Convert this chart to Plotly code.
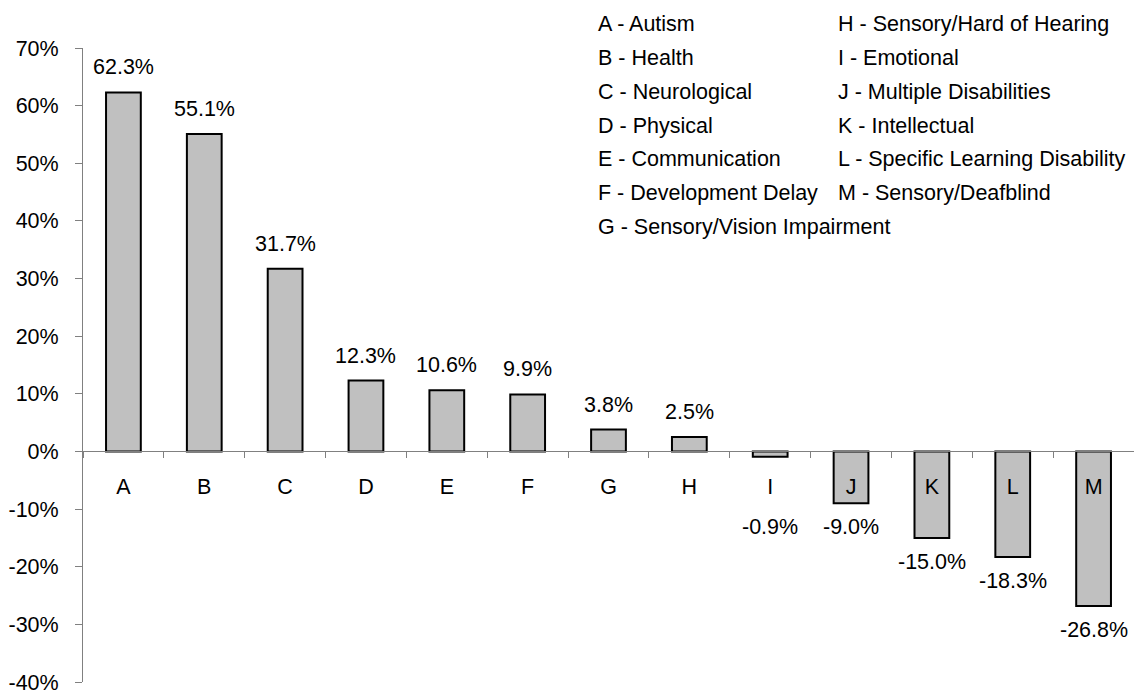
import plotly.graph_objects as go

categories = ["A", "B", "C", "D", "E", "F", "G", "H", "I", "J", "K", "L", "M"]
values = [62.3, 55.1, 31.7, 12.3, 10.6, 9.9, 3.8, 2.5, -0.9, -9.0, -15.0, -18.3, -26.8]
names = ["Autism", "Health", "Neurological", "Physical", "Communication",
         "Development Delay", "Sensory/Vision Impairment", "Sensory/Hard of Hearing",
         "Emotional", "Multiple Disabilities", "Intellectual",
         "Specific Learning Disability", "Sensory/Deafblind"]
y_ticks = [-40, -30, -20, -10, 0, 10, 20, 30, 40, 50, 60, 70]
y_tick_labels = [f"{t}%" for t in y_ticks]

FONT = "Liberation Sans, Arial, sans-serif"
FS = 21.5
W, H = 1134, 695
ML, MR, MT, MB = 83, 0, 48, 10
ymin, ymax = -40, 70
LABEL_FLOOR = -9.0  # negative labels sit no higher than this level (clears category letters)

fig = go.Figure()
fig.add_trace(go.Bar(
    x=categories, y=values, width=0.43,
    marker=dict(color="#c0c0c0", line=dict(color="#000000", width=2)),
    showlegend=False, hoverinfo="x+y",
))

annotations = []
for c, v in zip(categories, values):
    annotations.append(dict(
        x=c, y=v if v >= 0 else min(v, LABEL_FLOOR), xref="x", yref="y",
        text=f"{v:.1f}%", showarrow=False,
        yanchor="bottom" if v >= 0 else "top", yshift=11 if v >= 0 else -10,
        font=dict(family=FONT, size=FS, color="#000"),
    ))

# key text in two columns
plot_h = H - MT - MB
plot_w = W - ML - MR
col1_x = (596 - ML) / plot_w
col2_x = (836 - ML) / plot_w
row0 = 24
row_step = 34
for i, (c, n) in enumerate(zip(categories, names)):
    col = 0 if i < 7 else 1
    row = i if i < 7 else i - 7
    ypx = row0 + row * row_step
    annotations.append(dict(
        x=col1_x if col == 0 else col2_x, y=(H - MB - ypx) / plot_h,
        xref="paper", yref="paper", xanchor="left", yanchor="middle",
        text=f"{c} - {n}", showarrow=False, align="left",
        font=dict(family=FONT, size=FS, color="#000"),
    ))

fig.update_layout(
    width=W, height=H,
    margin=dict(l=ML, r=MR, t=MT, b=MB, pad=0),
    paper_bgcolor="white", plot_bgcolor="white",
    font=dict(family=FONT, size=FS, color="#000"),
    bargap=0.57,
    annotations=annotations,
    xaxis=dict(
        type="category", range=[-0.5, len(categories) - 0.5],
        anchor="free", position=(0 - ymin) / (ymax - ymin),
        showline=True, linecolor="#808080", linewidth=1,
        ticks="outside", tickson="boundaries", ticklen=6, tickcolor="#808080",
        ticklabelstandoff=16,
        showgrid=False, zeroline=False,
        tickfont=dict(family=FONT, size=FS, color="#000"),
    ),
    yaxis=dict(
        range=[ymin, ymax], domain=[0, 1],
        tickvals=y_ticks, ticktext=y_tick_labels,
        showline=True, linecolor="#808080", linewidth=1,
        ticks="outside", ticklen=7, tickcolor="#808080",
        ticklabelstandoff=12, ticklabeloverflow="allow",
        showgrid=False, zeroline=False,
        tickfont=dict(family=FONT, size=FS, color="#000"),
    ),
)

fig.write_html("out.html")
